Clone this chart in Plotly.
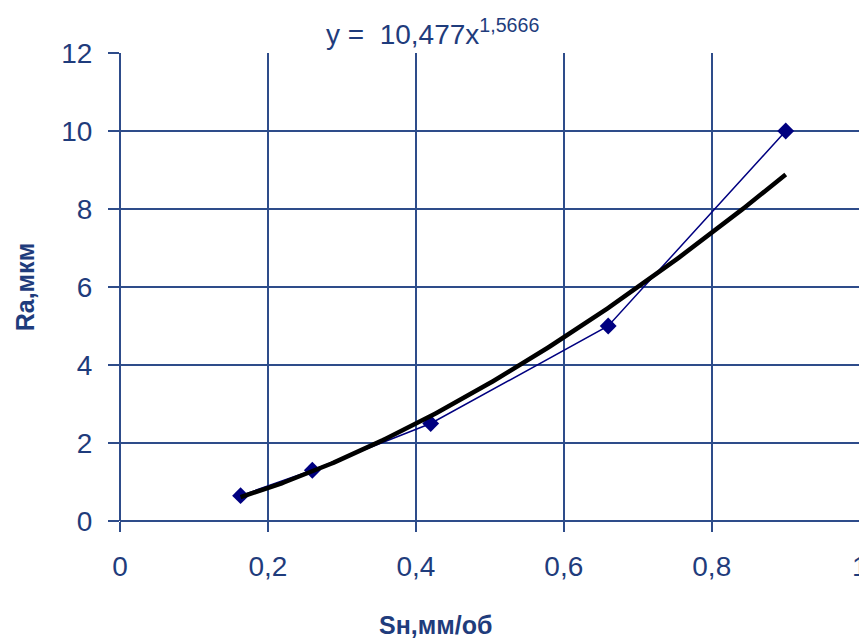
import numpy as np
import plotly.graph_objects as go

# Data points
feed_x = [0.163, 0.26, 0.42, 0.66, 0.9]
ra_y = [0.65, 1.3, 2.5, 5.0, 10.0]

# Power trendline coefficients shown on chart: y = a * x^b
trend_a = 10.477
trend_b = 1.5666

x_ticks = [0, 0.2, 0.4, 0.6, 0.8, 1]
x_labels = ["0", "0,2", "0,4", "0,6", "0,8", "1"]
y_ticks = [0, 2, 4, 6, 8, 10, 12]

tx = np.linspace(min(feed_x), max(feed_x), 200)
ty = trend_a * tx ** trend_b

grid = "#2E4C8A"
txt = "#1F3C7C"
FONT = "Liberation Sans, Arial, sans-serif"

fig = go.Figure()
fig.add_trace(go.Scatter(x=feed_x, y=ra_y, mode="lines+markers",
                         line=dict(color="#000080", width=1.5),
                         marker=dict(symbol="diamond", size=13, color="#000080"),
                         showlegend=False))
fig.add_trace(go.Scatter(x=tx, y=ty, mode="lines",
                         line=dict(color="black", width=4.5),
                         showlegend=False))

fig.update_layout(
    width=859, height=631,
    margin=dict(l=112, r=7, t=45, b=118),
    paper_bgcolor="white", plot_bgcolor="white",
    font=dict(family=FONT, size=28, color=txt),
    xaxis=dict(range=[0, 1.0004], tickvals=x_ticks, ticktext=x_labels, automargin=False,
               showgrid=True, gridcolor=grid, gridwidth=2,
               showline=False, zeroline=True, zerolinecolor=grid, zerolinewidth=2,
               ticks="outside", ticklen=10, tickwidth=2, tickcolor=grid,
               ticklabelstandoff=10, ticklabeloverflow="allow",
               tickfont=dict(family=FONT, size=28, color=txt)),
    yaxis=dict(range=[0, 12], tickvals=y_ticks, automargin=False,
               showgrid=True, gridcolor=grid, gridwidth=2,
               showline=False, zeroline=True, zerolinecolor=grid, zerolinewidth=2,
               ticks="outside", ticklen=11, tickwidth=2, tickcolor=grid,
               ticklabelstandoff=10,
               tickfont=dict(family=FONT, size=28, color=txt)),
)

fig.add_annotation(x=0.422, y=1.0, xref="paper", yref="paper",
                   xanchor="center", yanchor="bottom", yshift=1, showarrow=False,
                   text="y = &nbsp;10,477x<sup>1,5666</sup>",
                   font=dict(family=FONT, size=28, color=txt))
fig.add_annotation(x=0.426, y=-0.222, xref="paper", yref="paper",
                   xanchor="center", yanchor="middle", showarrow=False,
                   text="<b>Sн,мм/об</b>", font=dict(family=FONT, size=25, color=txt))
fig.add_annotation(x=-0.128, y=0.5, xref="paper", yref="paper",
                   xanchor="center", yanchor="middle", showarrow=False, textangle=-90,
                   text="<b>Ra,мкм</b>", font=dict(family=FONT, size=25, color=txt))

fig.write_html("out.html")
